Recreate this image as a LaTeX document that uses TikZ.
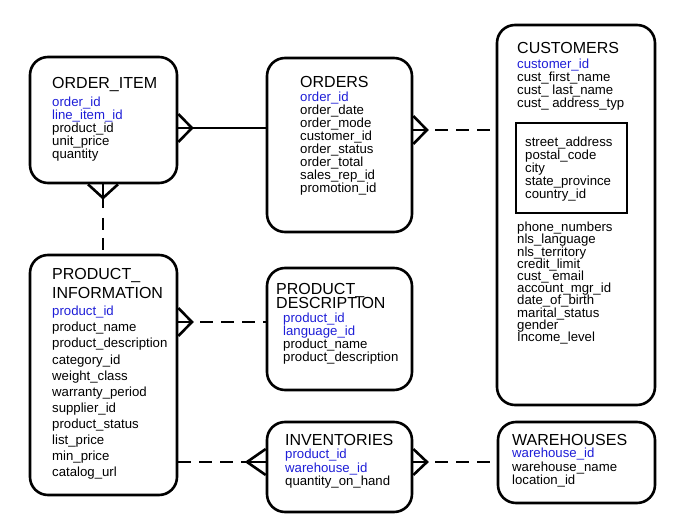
\documentclass[tikz,border=0pt]{standalone}
\usepackage{fontspec}
\setmainfont{Liberation Sans}
\usetikzlibrary{calc}
\definecolor{keyblue}{RGB}{30,30,215}
\newcommand{\pk}[1]{\textcolor{keyblue}{#1}}
\newcommand{\fieldfont}[1]{\fontsize{13.2}{#1}\selectfont\setlength{\lineskiplimit}{-8pt}}

\begin{document}
\begin{tikzpicture}
[x=1pt,y=-1pt,
 entity/.style={rectangle,draw,line width=2.6pt,rounded corners=18pt,inner sep=0pt},
 group/.style={rectangle,draw,line width=2.6pt,inner sep=0pt},
 title/.style={anchor=north west,inner sep=0pt,align=left,font=\fontsize{16}{19}\selectfont},
 fields/.style={anchor=north west,inner sep=0pt,align=left,font=\fieldfont{12.9pt}},
 solid link/.style={line width=2.6pt},
 dashed link/.style={line width=2.6pt,dash pattern=on 13pt off 8pt,dash phase=13pt},
 crow/.style={line width=2.6pt,line join=miter}]
\useasboundingbox (0,0) rectangle (673,529);
% entities
\node[entity,minimum width=147pt,minimum height=126pt] (orderitem)  at (103.5,120) {};
\node[entity,minimum width=145pt,minimum height=174pt] (orders)     at (339.5,145) {};
\node[entity,minimum width=158pt,minimum height=380pt] (customers)  at (576,215)   {};
\node[group, minimum width=111pt,minimum height=90pt]  (address)    at (571.5,168) {};
\node[entity,minimum width=147pt,minimum height=240pt] (prodinfo)   at (103.5,375) {};
\node[entity,minimum width=145pt,minimum height=122pt] (proddesc)   at (339.5,329) {};
\node[entity,minimum width=145pt,minimum height=90pt]  (inventories) at (339.5,467) {};
\node[entity,minimum width=157pt,minimum height=81pt]  (warehouses) at (576.5,462.5) {};
% texts
\node[title]  (orderitemT) at (52,77) {ORDER\_ITEM};
\node[fields] (orderitemF) at (52,97) {\pk{order\_id}\\ \pk{line\_item\_id}\\ product\_id\\ unit\_price\\ quantity};
\node[title]  (ordersT) at (300,76) {ORDERS};
\node[fields] (ordersF) at (300,92) {\pk{order\_id}\\ order\_date\\ order\_mode\\ customer\_id\\ order\_status\\ order\_total\\ sales\_rep\_id\\ promotion\_id};
\node[title]  (customersT) at (517,42) {CUSTOMERS};
\node[fields] (customersF) at (517,59) {\pk{customer\_id}\\ cust\_first\_name\\ cust\_ last\_name\\ cust\_ address\_typ};
\node[fields] (addressF) at (525,137) {street\_address\\ postal\_code\\ city\\ state\_province\\ country\_id};
\node[fields,font=\fieldfont{12.2pt}] (customersG) at (517,222) {phone\_numbers\\ nls\_language\\ nls\_territory\\ credit\_limit\\ cust\_ email\\ account\_mgr\_id\\ date\_of\_birth\\ marital\_status\\ gender\\ Income\_level};
\node[title]  (prodinfoT) at (52,268) {PRODUCT\_\\ INFORMATION};
\node[fields,font=\fieldfont{16.1pt}] (prodinfoF) at (52,306) {\pk{product\_id}\\ product\_name\\ product\_description\\ category\_id\\ weight\_class\\ warranty\_period\\ supplier\_id\\ product\_status\\ list\_price\\ min\_price\\ catalog\_url};
\node[title,font=\fontsize{16}{14.5}\selectfont] (proddescT) at (276,283) {PRODUCT\_\\ DESCRIPTION};
\node[fields] (proddescF) at (283,313) {\pk{product\_id}\\ \pk{language\_id}\\ product\_name\\ product\_description};
\node[title]  (inventoriesT) at (285,434) {INVENTORIES};
\node[fields,font=\fieldfont{13.4pt}] (inventoriesF) at (285,449) {\pk{product\_id}\\ \pk{warehouse\_id}\\ quantity\_on\_hand};
\node[title]  (warehousesT) at (512,434) {WAREHOUSES};
\node[fields,font=\fieldfont{13.4pt}] (warehousesF) at (512,448) {\pk{warehouse\_id}\\ warehouse\_name\\ location\_id};
% crow's foot tips
\coordinate (oiE) at (192,128);
\coordinate (oiS) at (103,198);
\coordinate (ordE) at (427,130);
\coordinate (piE) at (192,322);
\coordinate (invW) at (247,462);
\coordinate (invE) at (427,462);
\draw[crow] (orderitem.east |- 0,114) -- (oiE) -- (orderitem.east |- 0,142);
\draw[crow] (orderitem.south -| 88,0) -- (oiS) -- (orderitem.south -| 118,0);
\draw[crow] (orders.east |- 0,116) -- (ordE) -- (orders.east |- 0,144);
\draw[crow] (prodinfo.east |- 0,308) -- (piE) -- (prodinfo.east |- 0,336);
\draw[crow] (inventories.west |- 0,449) -- (invW) -- (inventories.west |- 0,475);
\draw[crow] (inventories.east |- 0,449) -- (invE) -- (inventories.east |- 0,475);
% relationships
\draw[solid link] (orderitem.east |- oiE) -- (orders.west |- oiE);
\draw[solid link] (orderitem.south -| oiS) -- (oiS);
\draw[line width=2.6pt,dash pattern=on 10pt off 10pt on 12pt off 8pt on 12pt off 8pt] (oiS) -- (prodinfo.north -| oiS);
\draw[dashed link] (ordE) -- (customers.west |- ordE);
\draw[solid link] (prodinfo.east |- piE) -- (piE);
\draw[dashed link] (piE) -- (proddesc.west |- piE);
\draw[dashed link,dash phase=0pt] (prodinfo.east |- invW) -- (invW);
\draw[solid link] (invW) -- (inventories.west |- invW);
\draw[solid link] (orders.east |- ordE) -- (ordE);
\draw[solid link] (inventories.east |- invE) -- (invE);
\draw[dashed link] (invE) -- (warehouses.west |- invE);
\end{tikzpicture}
\end{document}
